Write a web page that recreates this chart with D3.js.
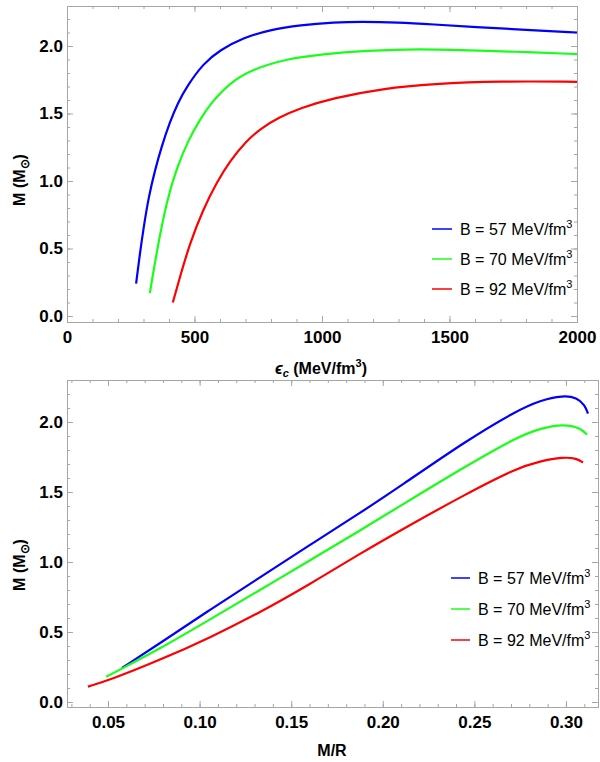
<!DOCTYPE html>
<html>
<head>
<meta charset="utf-8">
<script src="https://cdn.jsdelivr.net/npm/d3@7"></script>
<style>
  body { margin: 0; background: #fff; }
  svg { display: block; }
</style>
</head>
<body>
<svg id="chart" width="600" height="762"></svg>
<script>
// top panel: M vs central energy density
const eps57 = [271, 285, 300, 320, 345, 370, 404, 435, 470, 534, 600, 690, 796, 914, 1050, 1150, 1300, 1435, 1600, 1800, 2000];
const mEps57 = [0.24, 0.45, 0.65, 0.88, 1.08, 1.25, 1.44, 1.58, 1.70, 1.87, 1.97, 2.06, 2.12, 2.155, 2.175, 2.18, 2.175, 2.16, 2.14, 2.12, 2.10];
const eps70 = [325, 353, 392, 431, 475, 520, 561, 639, 730, 863, 1000, 1175, 1372, 1631, 1800, 2000];
const mEps70 = [0.17, 0.49, 0.86, 1.10, 1.30, 1.45, 1.57, 1.73, 1.83, 1.905, 1.94, 1.965, 1.98, 1.965, 1.955, 1.94];
const eps92 = [415, 443, 482, 534, 587, 640, 700, 760, 830, 914, 1043, 1239, 1435, 1698, 2000];
const mEps92 = [0.10, 0.29, 0.54, 0.79, 0.99, 1.15, 1.29, 1.39, 1.47, 1.54, 1.615, 1.685, 1.72, 1.74, 1.735];

// bottom panel: M vs compactness M/R
const mr57 = [0.0576, 0.0784, 0.1057, 0.133, 0.160, 0.1876, 0.2094, 0.246, 0.273, 0.286, 0.2984, 0.306, 0.3104, 0.312];
const mMr57 = [0.243, 0.42, 0.66, 0.89, 1.12, 1.35, 1.54, 1.87, 2.08, 2.155, 2.19, 2.175, 2.12, 2.06];
const mr70 = [0.049, 0.0784, 0.1057, 0.133, 0.160, 0.1876, 0.2094, 0.246, 0.273, 0.286, 0.2984, 0.3077, 0.3115];
const mMr70 = [0.18, 0.38, 0.59, 0.80, 1.01, 1.225, 1.40, 1.69, 1.89, 1.955, 1.985, 1.96, 1.91];
const mr92 = [0.039, 0.051, 0.0784, 0.1057, 0.133, 0.160, 0.1876, 0.2094, 0.246, 0.273, 0.286, 0.2984, 0.306, 0.3093];
const mMr92 = [0.11, 0.157, 0.30, 0.46, 0.64, 0.84, 1.06, 1.225, 1.49, 1.67, 1.72, 1.75, 1.74, 1.71];

const bagValues = ["57", "70", "92"];
const colors = ["#0000ff", "#18ff18", "#ff0000"];

const yTicks = [0, 0.5, 1.0, 1.5, 2.0];
const epsTicks = [0, 500, 1000, 1500, 2000];
const mrTicks = [0.05, 0.10, 0.15, 0.20, 0.25, 0.30];

const svg = d3.select("#chart");
const frameColor = "#a6a6a6";
const boldFont = "'Liberation Sans', Arial, sans-serif";

function zip(xs, ys) {
  return xs.map((x, i) => [x, ys[i]]);
}

function drawPanel(opts) {
  const x = d3.scaleLinear().domain(opts.xDomain).range([opts.left, opts.right]);
  const y = d3.scaleLinear().domain(opts.yDomain).range([opts.bottom, opts.top]);
  const g = svg.append("g");

  const xMinor = d3.range(opts.xMinorStart, opts.xDomain[1] + 1e-9, opts.xMinorStep)
    .filter((v) => v >= opts.xDomain[0] - 1e-9);
  const yMinor = d3.range(0, opts.yDomain[1], 0.1);

  function styleAxis(sel) {
    sel.selectAll("line").attr("stroke", frameColor);
    sel.select(".domain").attr("stroke", frameColor);
  }

  // minor ticks, four sides
  [
    [d3.axisBottom(x).tickValues(xMinor), opts.bottom],
    [d3.axisTop(x).tickValues(xMinor), opts.top],
  ].forEach(([ax, ty]) => {
    g.append("g")
      .attr("transform", `translate(0,${ty})`)
      .call(ax.tickSize(-3).tickSizeOuter(0).tickFormat(""))
      .call(styleAxis);
  });
  [
    [d3.axisLeft(y).tickValues(yMinor), opts.left],
    [d3.axisRight(y).tickValues(yMinor), opts.right],
  ].forEach(([ax, tx]) => {
    g.append("g")
      .attr("transform", `translate(${tx},0)`)
      .call(ax.tickSize(-3).tickSizeOuter(0).tickFormat(""))
      .call(styleAxis);
  });

  // major ticks with labels
  const xAxis = g.append("g")
    .attr("transform", `translate(0,${opts.bottom})`)
    .call(d3.axisBottom(x).tickValues(opts.xTicks).tickSize(-6).tickSizeOuter(0)
      .tickPadding(9).tickFormat(opts.xFormat))
    .call(styleAxis);
  g.append("g")
    .attr("transform", `translate(0,${opts.top})`)
    .call(d3.axisTop(x).tickValues(opts.xTicks).tickSize(-6).tickSizeOuter(0).tickFormat(""))
    .call(styleAxis);
  const yAxis = g.append("g")
    .attr("transform", `translate(${opts.left},0)`)
    .call(d3.axisLeft(y).tickValues(yTicks).tickSize(-6).tickSizeOuter(0)
      .tickPadding(4).tickFormat(d3.format(".1f")))
    .call(styleAxis);
  g.append("g")
    .attr("transform", `translate(${opts.right},0)`)
    .call(d3.axisRight(y).tickValues(yTicks).tickSize(-6).tickSizeOuter(0).tickFormat(""))
    .call(styleAxis);

  [xAxis, yAxis].forEach((a) => {
    a.selectAll("text")
      .attr("fill", "#000")
      .attr("font-family", boldFont)
      .attr("font-weight", "bold")
      .attr("font-size", 17);
  });

  // curves
  const line = d3.line()
    .x((d) => x(d[0]))
    .y((d) => y(d[1]))
    .curve(d3.curveBasis);
  opts.series.forEach((s, i) => {
    g.append("path")
      .datum(s)
      .attr("fill", "none")
      .attr("stroke", colors[i])
      .attr("stroke-width", 2.2)
      .attr("d", line);
  });

  // y label
  const yl = g.append("text")
    .attr("transform", `translate(${opts.yLabelX},${opts.yLabelY}) rotate(-90)`)
    .attr("text-anchor", "middle")
    .attr("font-family", boldFont)
    .attr("font-weight", "bold")
    .attr("font-size", 16);
  yl.append("tspan").text("M (M");
  yl.append("tspan").attr("font-size", 12).attr("dy", 4).text("\u2299");
  yl.append("tspan").attr("dy", -4).text(")");

  // legend
  const lg = g.append("g")
    .attr("transform", `translate(${opts.legendX},${opts.legendY})`);
  bagValues.forEach((b, i) => {
    const row = lg.append("g").attr("transform", `translate(0,${i * opts.legendGap})`);
    row.append("line")
      .attr("x1", 0).attr("x2", opts.legendLine)
      .attr("stroke", colors[i]).attr("stroke-width", 1.5);
    const t = row.append("text")
      .attr("x", opts.legendLine + 8)
      .attr("y", 6)
      .attr("font-family", boldFont)
      .attr("font-size", 16);
    t.append("tspan").text(`B = ${b} MeV/fm`);
    t.append("tspan").attr("font-size", 11).attr("dy", -7).text("3");
  });

  return g;
}

const topPanel = drawPanel({
  left: 67, right: 577, top: 6, bottom: 322,
  xDomain: [0, 2000], yDomain: [-0.0444, 2.2963],
  xTicks: epsTicks, xMinorStart: 0, xMinorStep: 100,
  xFormat: d3.format("d"),
  series: [zip(eps57, mEps57), zip(eps70, mEps70), zip(eps92, mEps92)],
  yLabelX: 25, yLabelY: 180,
  legendX: 432, legendY: 229, legendGap: 30, legendLine: 20,
});

const xt = topPanel.append("text")
  .attr("x", 321).attr("y", 374)
  .attr("text-anchor", "middle")
  .attr("font-family", boldFont)
  .attr("font-weight", "bold")
  .attr("font-size", 16);
xt.append("tspan").attr("font-style", "italic").text("\u03f5");
xt.append("tspan").attr("font-style", "italic").attr("font-size", 11).attr("dy", 3).text("c");
xt.append("tspan").attr("dy", -3).text(" (MeV/fm");
xt.append("tspan").attr("font-size", 11).attr("dy", -7).text("3");
xt.append("tspan").attr("dy", 7).text(")");

const bottomPanel = drawPanel({
  left: 67, right: 598, top: 380, bottom: 707,
  xDomain: [0.0276, 0.3175], yDomain: [-0.0357, 2.3],
  xTicks: mrTicks, xMinorStart: 0.03, xMinorStep: 0.01,
  xFormat: d3.format(".2f"),
  series: [zip(mr57, mMr57), zip(mr70, mMr70), zip(mr92, mMr92)],
  yLabelX: 25, yLabelY: 565,
  legendX: 451, legendY: 578, legendGap: 31, legendLine: 19,
});

bottomPanel.append("text")
  .attr("x", 332).attr("y", 756)
  .attr("text-anchor", "middle")
  .attr("font-family", boldFont)
  .attr("font-weight", "bold")
  .attr("font-size", 16)
  .text("M/R");
</script>
</body>
</html>
